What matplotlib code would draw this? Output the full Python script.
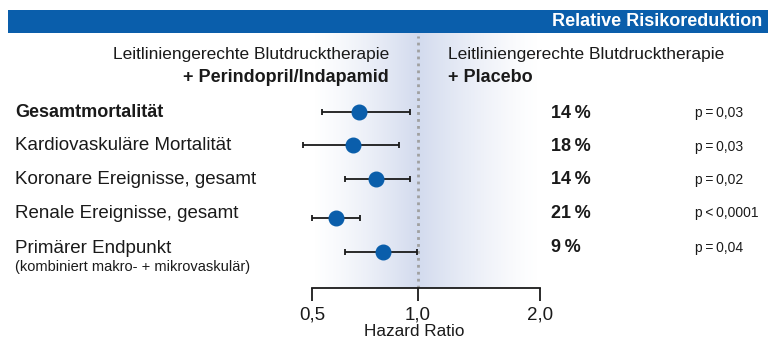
import numpy as np
import matplotlib
matplotlib.use('Agg')
import matplotlib.pyplot as plt
from matplotlib.colors import LinearSegmentedColormap

plt.rcParams['font.family'] = ['Liberation Sans', 'DejaVu Sans']

# data
endpoints = ['Gesamtmortalität', 'Kardiovaskuläre Mortalität', 'Koronare Ereignisse, gesamt',
             'Renale Ereignisse, gesamt', 'Primärer Endpunkt']
hr = [0.722, 0.695, 0.800, 0.612, 0.835]
ci_lo = [0.546, 0.459, 0.656, 0.499, 0.656]
ci_hi = [0.961, 0.912, 0.961, 0.726, 0.994]
rrr = ['14\u2009%', '18\u2009%', '14\u2009%', '21\u2009%', '9\u2009%']
pvals = ['p\u2009=\u20090,03', 'p\u2009=\u20090,03', 'p\u2009=\u20090,02', 'p\u2009<\u20090,0001', 'p\u2009=\u20090,04']
xticks = [0.5, 1.0, 2.0]
xticklabels = ['0,5', '1,0', '2,0']

W, H = 768, 343
blue = '#0a5eab'
dark = '#1a1a1a'

fig = plt.figure(figsize=(W / 100, H / 100), dpi=100)

def fx(px):
    return px / W

def fy(py):
    return 1 - py / H

# background layer in pixel coordinates
bg = fig.add_axes([0, 0, 1, 1])
bg.set_xlim(0, W)
bg.set_ylim(H, 0)
bg.axis('off')
bg.add_patch(plt.Rectangle((8, 10), W - 8, 23, color=blue, lw=0))
shade = LinearSegmentedColormap.from_list('shade', ['#ffffff', '#d3dbee', '#ffffff'])
left = np.linspace(0, 1, 106) ** 1.3 * 0.5
right = 1 - (1 - np.linspace(0, 1, 122)) ** 1.3 * 0.5
grad = np.concatenate([left, right])[None, :]
bg.imshow(grad, cmap=shade, extent=[312, 540, 288, 33], aspect='auto', vmin=0, vmax=1)

# forest plot axes
def fwd(v):
    v = np.asarray(v, dtype=float)
    return np.where(v <= 1, (v - 1) * 212, (v - 1) * 122)

def inv(p):
    p = np.asarray(p, dtype=float)
    return np.where(p <= 0, 1 + p / 212, 1 + p / 122)

row_y = [111.7, 145, 179, 218.3, 252.3]

ax = fig.add_axes([fx(312), fy(288), fx(228), (288 - 33) / H])
ax.patch.set_alpha(0)
ax.set_xscale('function', functions=(fwd, inv))
ax.set_xlim(0.5, 2.0)
ax.set_ylim(288, 33)

ax.axvline(1.0, color='#a0a0a0', ls=(0, (1, 1.5)), lw=2, ymax=0.99)
err = [np.array(hr) - np.array(ci_lo), np.array(ci_hi) - np.array(hr)]
eb = ax.errorbar(hr, row_y, xerr=err, fmt='none', ecolor=dark, elinewidth=1.3,
                 capsize=2.4, capthick=1.3)
for art in eb.lines[1] + eb.lines[2]:
    art.set_clip_on(False)
ax.plot(hr, row_y, 'o', color=blue, ms=10.5, mec=blue)

for s in ['top', 'right', 'left']:
    ax.spines[s].set_visible(False)
ax.spines['bottom'].set_color(dark)
ax.spines['bottom'].set_linewidth(1.3)
ax.set_yticks([])
ax.set_xticks(xticks)
ax.set_xticklabels(xticklabels, fontsize=13.5)
ax.tick_params(axis='x', direction='out', length=9.5, width=1.3, color=dark, pad=4, labelcolor=dark)
ax.minorticks_off()
ax.set_xlabel('Hazard Ratio', fontsize=12.3, color=dark, va='center')
ax.xaxis.set_label_coords((414 - 312) / 228, -(332 - 288) / 255)

# header texts
fig.text(fx(762), fy(21.5), 'Relative Risikoreduktion', color='white', fontsize=13,
         fontweight='bold', ha='right', va='center')
fig.text(fx(389), fy(55), 'Leitliniengerechte Blutdrucktherapie', fontsize=12.5, color=dark,
         ha='right', va='center')
fig.text(fx(389), fy(77), '+ Perindopril/Indapamid', fontsize=13, color=dark,
         fontweight='bold', ha='right', va='center')
fig.text(fx(448), fy(55), 'Leitliniengerechte Blutdrucktherapie', fontsize=12.5, color=dark,
         ha='left', va='center')
fig.text(fx(448), fy(77), '+ Placebo', fontsize=13, color=dark,
         fontweight='bold', ha='left', va='center')

# row labels
label_y = [112.5, 146, 180, 214, 248.5]
for i, name in enumerate(endpoints):
    fig.text(fx(15), fy(label_y[i]), name, fontsize=13.5 if i else 13, color=dark,
             ha='left', va='center', fontweight='bold' if i == 0 else 'normal')
fig.text(fx(15), fy(267.5), '(kombiniert makro- + mikrovaskulär)', fontsize=10.5, color=dark,
         ha='left', va='center')

pct_y = [113, 146.5, 180, 213.5, 248]
for i in range(len(rrr)):
    fig.text(fx(551), fy(pct_y[i]), rrr[i], fontsize=13, fontweight='bold', color=dark,
             ha='left', va='center')
    fig.text(fx(695), fy(pct_y[i]), pvals[i], fontsize=10, color=dark, ha='left', va='center')

fig.savefig('out.png', dpi=100)
